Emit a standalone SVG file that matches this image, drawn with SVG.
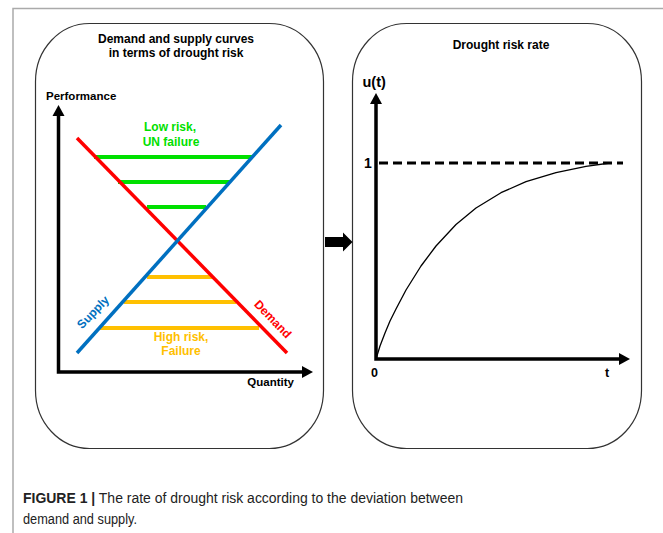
<svg xmlns="http://www.w3.org/2000/svg" width="663" height="533" viewBox="0 0 663 533">
<style>
.frame{fill:none;stroke:#aaaaaa;stroke-width:1.5}
.panel{fill:#ffffff;stroke:#333333;stroke-width:1.2}
.t{font-family:"Liberation Sans",Arial,Helvetica,sans-serif;font-weight:bold;fill:#000}
.axis{fill:none;stroke:#000;stroke-width:3.5;stroke-linejoin:miter}
.head{fill:#000}
.dem{stroke:#ff0000;stroke-width:3.5;fill:none}
.sup{stroke:#0070c0;stroke-width:3.5;fill:none}
.lo{stroke:#00e000;stroke-width:4.2}
.hi{stroke:#ffc000;stroke-width:4.2}
.cap{font-family:"Liberation Sans Narrow","Liberation Sans",Arial,sans-serif;font-size:15.5px;fill:#222}
</style>
<rect width="663" height="533" fill="#ffffff"/>
<path class="frame" d="M13,533 V8.5 H663"/>

<g id="panel-demand-supply">
<rect class="panel" x="35.5" y="23.5" width="288" height="425" rx="54" ry="58"/>
<text class="t" x="176" y="43" font-size="12" text-anchor="middle">Demand and supply curves</text>
<text class="t" x="176" y="57" font-size="12" text-anchor="middle">in terms of drought risk</text>
<text class="t" x="46" y="100" font-size="11.5">Performance</text>
<text class="t" x="294" y="386" font-size="11.5" text-anchor="end">Quantity</text>
<path class="axis" d="M58.5,114 V372 H304"/>
<polygon class="head" points="58.5,105 52.5,116 64.5,116"/>
<polygon class="head" points="313,372 302,366 302,378"/>
<line class="lo" x1="94" y1="157" x2="252" y2="157"/>
<line class="lo" x1="118" y1="182" x2="230" y2="182"/>
<line class="lo" x1="147" y1="207" x2="206" y2="207"/>
<line class="hi" x1="147" y1="277" x2="212" y2="277"/>
<line class="hi" x1="124" y1="302" x2="236" y2="302"/>
<line class="hi" x1="100" y1="328" x2="259" y2="328"/>
<line class="dem" x1="77" y1="138" x2="287" y2="353"/>
<line class="sup" x1="281" y1="125" x2="77" y2="353"/>
<text class="t" x="170" y="131" font-size="12" text-anchor="middle" style="fill:#00e000">Low risk,</text>
<text class="t" x="171" y="146" font-size="12" text-anchor="middle" style="fill:#00e000">UN failure</text>
<text class="t" x="181" y="341" font-size="12" text-anchor="middle" style="fill:#ffc000">High risk,</text>
<text class="t" x="181" y="354.5" font-size="12" text-anchor="middle" style="fill:#ffc000">Failure</text>
<text class="t" font-size="12" text-anchor="middle" style="fill:#0070c0" transform="translate(96,315) rotate(-46)">Supply</text>
<text class="t" font-size="12" text-anchor="middle" style="fill:#ff0000" transform="translate(270,322) rotate(46)">Demand</text>
</g>

<g id="panel-risk-rate">
<rect class="panel" x="352.5" y="23.5" width="289" height="425" rx="54" ry="58"/>
<text class="t" x="501" y="48.5" font-size="12" text-anchor="middle">Drought risk rate</text>
<text class="t" x="362.5" y="87" font-size="14.5">u(t)</text>
<text class="t" x="364" y="168" font-size="14">1</text>
<text class="t" x="374.5" y="376.5" font-size="12.5" text-anchor="middle">0</text>
<text class="t" x="607" y="376.5" font-size="12.5" text-anchor="middle">t</text>
<line x1="379" y1="163" x2="623" y2="163" stroke="#000" stroke-width="3" stroke-dasharray="9,5"/>
<path fill="none" stroke="#000" stroke-width="1.3" stroke-linejoin="round" d="M376,359 L380,346 L385,333 L390,321 L396,309 L406,290 L421,266 L436,246 L456,224.5 L476,208 L501,192.7 L526,181.7 L556,172.6 L586,166.4 L610,163"/>
<path class="axis" d="M376,102 V359 H621"/>
<polygon class="head" points="376,93 370,104 382,104"/>
<polygon class="head" points="630,359 619,353 619,365"/>
</g>

<g id="connectors">
<polygon fill="#000" points="325,237 343,237 343,232.5 352.5,242 343,251.5 343,247 325,247"/>
</g>

<g id="caption">
<text class="cap" x="23" y="503" textLength="440" lengthAdjust="spacingAndGlyphs"><tspan font-weight="bold">FIGURE 1 |</tspan> The rate of drought risk according to the deviation between</text>
<text class="cap" x="23" y="524" textLength="114" lengthAdjust="spacingAndGlyphs">demand and supply.</text>
</g>
</svg>
